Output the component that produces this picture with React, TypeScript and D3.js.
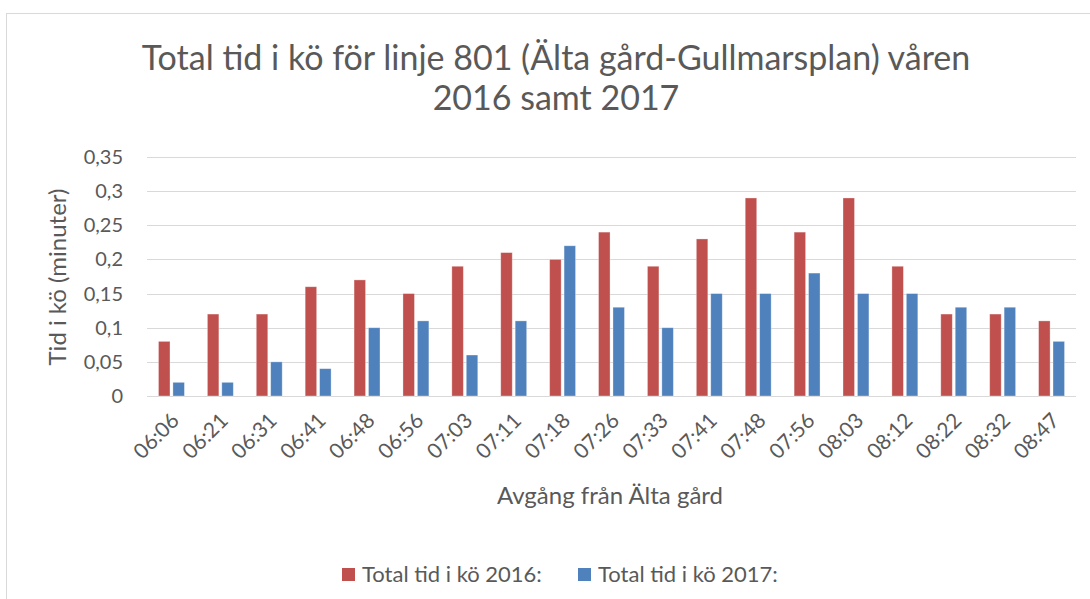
import React, { useEffect, useRef } from 'react';
import * as d3 from 'd3';

// departure times from Älta gård
const departures = [
  '06:06', '06:21', '06:31', '06:41', '06:48', '06:56', '07:03', '07:11', '07:18', '07:26',
  '07:33', '07:41', '07:48', '07:56', '08:03', '08:12', '08:22', '08:32', '08:47',
];
const queue2016 = [0.08, 0.12, 0.12, 0.16, 0.17, 0.15, 0.19, 0.21, 0.2, 0.24, 0.19, 0.23, 0.29, 0.24, 0.29, 0.19, 0.12, 0.12, 0.11];
const queue2017 = [0.02, 0.02, 0.05, 0.04, 0.1, 0.11, 0.06, 0.11, 0.22, 0.13, 0.1, 0.15, 0.15, 0.18, 0.15, 0.15, 0.13, 0.13, 0.08];
const yTicks = [0, 0.05, 0.1, 0.15, 0.2, 0.25, 0.3, 0.35];
const seriesNames = ['Total tid i kö 2016:', 'Total tid i kö 2017:'];
const colors = ['#C0504D', '#4F81BD'];

const FONT = 'Lato, "Open Sans", sans-serif';
const TEXT = '#595959';

export default function App() {
  const ref = useRef<SVGSVGElement>(null);

  useEffect(() => {
    const svg = d3.select(ref.current);
    svg.selectAll('*').remove();

    const margin = { left: 147, right: 1076, top: 157, bottom: 396 };

    // chart border
    svg.append('rect')
      .attr('x', 6.5).attr('y', 13.5)
      .attr('width', 1100).attr('height', 600)
      .attr('fill', '#fff').attr('stroke', '#D9D9D9');

    const x = d3.scaleBand().domain(departures).range([margin.left, margin.right]).padding(0);
    const y = d3.scaleLinear().domain([0, 0.35]).range([margin.bottom, margin.top]);

    // gridlines
    svg.append('g')
      .selectAll('line')
      .data(yTicks)
      .enter()
      .append('line')
      .attr('x1', margin.left).attr('x2', margin.right)
      .attr('y1', (d) => Math.round(y(d)) + 0.5)
      .attr('y2', (d) => Math.round(y(d)) + 0.5)
      .attr('stroke', '#D9D9D9')
      .attr('stroke-width', 1.2);

    // y tick labels
    svg.append('g')
      .selectAll('text')
      .data(yTicks)
      .enter()
      .append('text')
      .attr('x', 123)
      .attr('y', (d) => y(d) + 7)
      .attr('text-anchor', 'end')
      .attr('font-family', FONT)
      .attr('font-size', 20)
      .attr('fill', TEXT)
      .text((d) => d3.format('.2~f')(d).replace('.', ','));

    // bars
    const step = x.bandwidth();
    const barW = step * 0.235;
    const gap = step * 0.06;
    const series = [queue2016, queue2017];
    series.forEach((vals, s) => {
      svg.append('g')
        .selectAll('rect')
        .data(vals)
        .enter()
        .append('rect')
        .attr('x', (d, i) => x(departures[i])! + step / 2 - gap / 2 - barW + s * (barW + gap))
        .attr('y', (d) => y(d))
        .attr('width', barW)
        .attr('height', (d) => y(0) - y(d))
        .attr('fill', colors[s])
        .attr('stroke', '#fff')
        .attr('stroke-opacity', 0.4)
        .attr('stroke-width', 0.8);
    });

    // x tick labels
    svg.append('g')
      .selectAll('text')
      .data(departures)
      .enter()
      .append('text')
      .attr('transform', (d) => `translate(${x(d)! + step / 2 + 9},${422}) rotate(-45)`)
      .attr('text-anchor', 'end')
      .attr('font-family', FONT)
      .attr('font-size', 21)
      .attr('fill', TEXT)
      .text((d) => d);

    // title
    const title = svg.append('text')
      .attr('text-anchor', 'middle')
      .attr('font-family', FONT)
      .attr('font-size', 34)
      .attr('fill', TEXT);
    title.append('tspan').attr('x', 556).attr('y', 70).text('Total tid i kö för linje 801 (Älta gård-Gullmarsplan) våren');
    title.append('tspan').attr('x', 556).attr('y', 110).text('2016 samt 2017');

    // axis titles
    svg.append('text')
      .attr('x', 610).attr('y', 504)
      .attr('text-anchor', 'middle')
      .attr('font-family', FONT)
      .attr('font-size', 24)
      .attr('fill', TEXT)
      .text('Avgång från Älta gård');

    svg.append('text')
      .attr('transform', 'translate(66,277) rotate(-90)')
      .attr('text-anchor', 'middle')
      .attr('font-family', FONT)
      .attr('font-size', 24)
      .attr('fill', TEXT)
      .text('Tid i kö (minuter)');

    // legend
    const legendX = [342, 578];
    seriesNames.forEach((name, i) => {
      svg.append('rect')
        .attr('x', legendX[i]).attr('y', 568)
        .attr('width', 13).attr('height', 13)
        .attr('fill', colors[i]);
      svg.append('text')
        .attr('x', legendX[i] + 20).attr('y', 582)
        .attr('font-family', FONT)
        .attr('font-size', 22)
        .attr('fill', TEXT)
        .text(name);
    });
  }, []);

  return (
    <svg ref={ref} width={1090} height={599} style={{ position: 'absolute', left: 0, top: 0, background: '#fff' }} />
  );
}
